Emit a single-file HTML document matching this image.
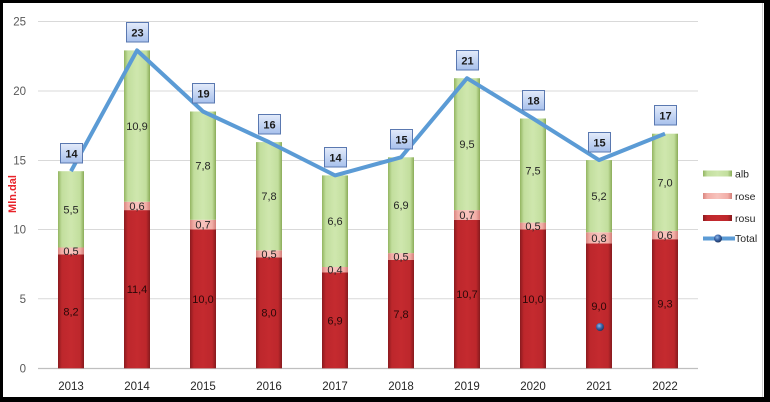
<!DOCTYPE html>
<html><head><meta charset="utf-8">
<style>
html,body{margin:0;padding:0;background:#000;}
svg{display:block;}
text{font-family:"Liberation Sans",Arial,sans-serif;}
</style></head>
<body>
<svg width="770" height="402" viewBox="0 0 770 402" xmlns="http://www.w3.org/2000/svg">
<defs>
<linearGradient id="gG" x1="0" x2="1" y1="0" y2="0">
<stop offset="0" stop-color="#93b561"/><stop offset="0.15" stop-color="#c2de9d"/><stop offset="0.5" stop-color="#cfe7ae"/><stop offset="0.85" stop-color="#c2de9d"/><stop offset="1" stop-color="#8aac58"/>
</linearGradient>
<linearGradient id="gR" x1="0" x2="1" y1="0" y2="0">
<stop offset="0" stop-color="#8a1a1e"/><stop offset="0.15" stop-color="#bd272c"/><stop offset="0.5" stop-color="#c42a2f"/><stop offset="0.85" stop-color="#bd272c"/><stop offset="1" stop-color="#861a1d"/>
</linearGradient>
<linearGradient id="gP" x1="0" x2="1" y1="0" y2="0">
<stop offset="0" stop-color="#d88680"/><stop offset="0.15" stop-color="#f2aea7"/><stop offset="0.5" stop-color="#f7c3bd"/><stop offset="0.85" stop-color="#f2aea7"/><stop offset="1" stop-color="#d27f79"/>
</linearGradient>
<linearGradient id="gB" x1="0" x2="0" y1="0" y2="1">
<stop offset="0" stop-color="#e3ebfa"/><stop offset="1" stop-color="#a7c0ec"/>
</linearGradient>
<radialGradient id="gDot" cx="0.4" cy="0.35" r="0.7">
<stop offset="0" stop-color="#8fb8e8"/><stop offset="0.5" stop-color="#3a64a8"/><stop offset="1" stop-color="#1b2f55"/>
</radialGradient>
</defs>
<rect x="0" y="0" width="770" height="402" fill="#000"/>
<rect x="3" y="3" width="761" height="394" fill="#fff"/>
<line x1="762.5" y1="3" x2="762.5" y2="397" stroke="#d0d0d0" stroke-width="1"/>

<g stroke="#d9d9d9" stroke-width="1">
<line x1="38" y1="21.5" x2="698" y2="21.5"/>
<line x1="38" y1="91" x2="698" y2="91"/>
<line x1="38" y1="160.5" x2="698" y2="160.5"/>
<line x1="38" y1="229.5" x2="698" y2="229.5"/>
<line x1="38" y1="298.8" x2="698" y2="298.8"/>
</g>
<line x1="38" y1="368.5" x2="698" y2="368.5" stroke="#bfbfbf" stroke-width="1.2"/>

<g font-size="11.5" fill="#595959" text-anchor="end">
<text x="26" y="25.5">25</text>
<text x="26" y="95">20</text>
<text x="26" y="164.5">15</text>
<text x="26" y="233.5">10</text>
<text x="26" y="302.8">5</text>
<text x="26" y="372.5">0</text>
</g>
<text transform="translate(16,194) rotate(-90)" font-size="11" font-weight="bold" fill="#e8232a" text-anchor="middle">Mln.dal</text>

<g font-size="11.5" fill="#262626" text-anchor="middle">
<text x="71" y="390">2013</text>
<text x="137" y="390">2014</text>
<text x="203" y="390">2015</text>
<text x="269" y="390">2016</text>
<text x="335" y="390">2017</text>
<text x="401" y="390">2018</text>
<text x="467" y="390">2019</text>
<text x="533" y="390">2020</text>
<text x="599" y="390">2021</text>
<text x="665" y="390">2022</text>
</g>

<rect x="58" y="254.5" width="26" height="113.8" fill="url(#gR)"/>
<rect x="58" y="247.5" width="26" height="7" fill="url(#gP)"/>
<rect x="58" y="171.2" width="26" height="76.3" fill="url(#gG)"/>
<rect x="124" y="210.1" width="26" height="158.2" fill="url(#gR)"/>
<rect x="124" y="201.7" width="26" height="8.4" fill="url(#gP)"/>
<rect x="124" y="50.4" width="26" height="151.3" fill="url(#gG)"/>
<rect x="190" y="229.5" width="26" height="138.8" fill="url(#gR)"/>
<rect x="190" y="219.8" width="26" height="9.7" fill="url(#gP)"/>
<rect x="190" y="111.5" width="26" height="108.3" fill="url(#gG)"/>
<rect x="256" y="257.3" width="26" height="111" fill="url(#gR)"/>
<rect x="256" y="250.3" width="26" height="7" fill="url(#gP)"/>
<rect x="256" y="142.1" width="26" height="108.2" fill="url(#gG)"/>
<rect x="322" y="272.5" width="26" height="95.8" fill="url(#gR)"/>
<rect x="322" y="267" width="26" height="5.5" fill="url(#gP)"/>
<rect x="322" y="175.4" width="26" height="91.6" fill="url(#gG)"/>
<rect x="388" y="260" width="26" height="108.3" fill="url(#gR)"/>
<rect x="388" y="253.1" width="26" height="6.9" fill="url(#gP)"/>
<rect x="388" y="157.3" width="26" height="95.8" fill="url(#gG)"/>
<rect x="454" y="219.8" width="26" height="148.5" fill="url(#gR)"/>
<rect x="454" y="210.1" width="26" height="9.7" fill="url(#gP)"/>
<rect x="454" y="78.2" width="26" height="131.9" fill="url(#gG)"/>
<rect x="520" y="229.5" width="26" height="138.8" fill="url(#gR)"/>
<rect x="520" y="222.6" width="26" height="6.9" fill="url(#gP)"/>
<rect x="520" y="118.5" width="26" height="104.1" fill="url(#gG)"/>
<rect x="586" y="243.4" width="26" height="124.9" fill="url(#gR)"/>
<rect x="586" y="232.3" width="26" height="11.1" fill="url(#gP)"/>
<rect x="586" y="160.1" width="26" height="72.2" fill="url(#gG)"/>
<rect x="652" y="239.2" width="26" height="129.1" fill="url(#gR)"/>
<rect x="652" y="230.9" width="26" height="8.3" fill="url(#gP)"/>
<rect x="652" y="133.7" width="26" height="97.2" fill="url(#gG)"/>

<g font-size="11" text-anchor="middle">
<g fill="#2a0808">
<text x="71" y="315.5">8,2</text>
<text x="137" y="293">11,4</text>
<text x="203" y="303">10,0</text>
<text x="269" y="316.5">8,0</text>
<text x="335" y="324.5">6,9</text>
<text x="401" y="318">7,8</text>
<text x="467" y="298">10,7</text>
<text x="533" y="303">10,0</text>
<text x="599" y="310">9,0</text>
<text x="665" y="307.5">9,3</text>
</g>
<g fill="#262626">
<text x="71" y="255">0,5</text>
<text x="137" y="209.9">0,6</text>
<text x="203" y="228.7">0,7</text>
<text x="269" y="257.8">0,5</text>
<text x="335" y="273.7">0,4</text>
<text x="401" y="260.5">0,5</text>
<text x="467" y="219">0,7</text>
<text x="533" y="230">0,5</text>
<text x="599" y="241.8">0,8</text>
<text x="665" y="239">0,6</text>
<text x="71" y="213.3">5,5</text>
<text x="137" y="130">10,9</text>
<text x="203" y="169.6">7,8</text>
<text x="269" y="200.2">7,8</text>
<text x="335" y="225.2">6,6</text>
<text x="401" y="209.2">6,9</text>
<text x="467" y="148.1">9,5</text>
<text x="533" y="174.5">7,5</text>
<text x="599" y="200.2">5,2</text>
<text x="665" y="186.3">7,0</text>
</g>
</g>

<polyline points="71,171.2 137,50.4 203,111.5 269,142.1 335,175.4 401,157.3 467,78.2 533,118.5 599,160.1 665,133.7" fill="none" stroke="#5b9bd5" stroke-width="4" stroke-linejoin="round"/>
<circle cx="600" cy="327" r="4" fill="url(#gDot)"/>

<g font-size="11" font-weight="bold" fill="#1a1a1a" text-anchor="middle">
<rect x="60.5" y="143.5" width="22" height="19.5" fill="url(#gB)" stroke="#5a78b0"/>
<text x="71.5" y="157.5">14</text>
<rect x="126.5" y="22.5" width="22" height="19.5" fill="url(#gB)" stroke="#5a78b0"/>
<text x="137.5" y="36.5">23</text>
<rect x="192.5" y="83.5" width="22" height="19.5" fill="url(#gB)" stroke="#5a78b0"/>
<text x="203.5" y="97.5">19</text>
<rect x="258.5" y="114.5" width="22" height="19.5" fill="url(#gB)" stroke="#5a78b0"/>
<text x="269.5" y="128.5">16</text>
<rect x="324.5" y="147.5" width="22" height="19.5" fill="url(#gB)" stroke="#5a78b0"/>
<text x="335.5" y="161.5">14</text>
<rect x="390.5" y="129.5" width="22" height="19.5" fill="url(#gB)" stroke="#5a78b0"/>
<text x="401.5" y="143.5">15</text>
<rect x="456.5" y="50.5" width="22" height="19.5" fill="url(#gB)" stroke="#5a78b0"/>
<text x="467.5" y="64.5">21</text>
<rect x="522.5" y="90.5" width="22" height="19.5" fill="url(#gB)" stroke="#5a78b0"/>
<text x="533.5" y="104.5">18</text>
<rect x="588.5" y="132.5" width="22" height="19.5" fill="url(#gB)" stroke="#5a78b0"/>
<text x="599.5" y="146.5">15</text>
<rect x="654.5" y="105.5" width="22" height="19.5" fill="url(#gB)" stroke="#5a78b0"/>
<text x="665.5" y="119.5">17</text>
</g>

<g font-size="10.5" fill="#262626">
<rect x="703" y="170.5" width="29" height="6" fill="url(#gG)"/>
<text x="735" y="177.5">alb</text>
<rect x="703" y="193" width="29" height="6" fill="url(#gP)"/>
<text x="735" y="200">rose</text>
<rect x="703" y="215" width="29" height="6" fill="url(#gR)"/>
<text x="735" y="222">rosu</text>
<line x1="703" y1="238.5" x2="735" y2="238.5" stroke="#5b9bd5" stroke-width="4"/>
<circle cx="718" cy="238.5" r="4" fill="url(#gDot)"/>
<text x="735" y="242">Total</text>
</g>
</svg>
</body></html>
